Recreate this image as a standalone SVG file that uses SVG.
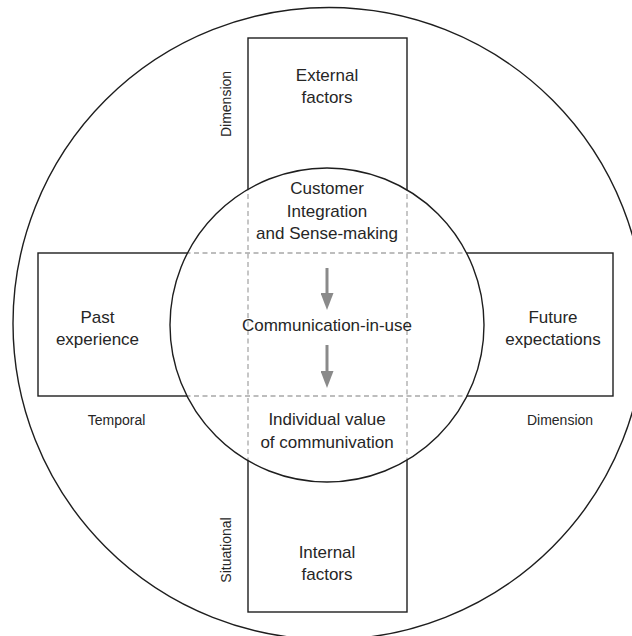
<svg xmlns="http://www.w3.org/2000/svg" width="632" height="636" viewBox="0 0 632 636">
  <style>
    .frame { fill: none; stroke: #1e1e1e; stroke-width: 1.4; }
    .guide { fill: none; stroke: #a8a8a8; stroke-width: 1.3; stroke-dasharray: 5 3.5; }
    .lbl { font-family: "Liberation Sans", Arial, sans-serif; font-size: 17px; fill: #262626; text-anchor: middle; }
    .dim { font-family: "Liberation Sans", Arial, sans-serif; font-size: 14px; fill: #262626; text-anchor: middle; }
    .flow { stroke: #8a8a8a; stroke-width: 3; fill: none; }
  </style>
  <defs>
    <marker id="head" viewBox="0 0 17 13" markerUnits="userSpaceOnUse" markerWidth="17" markerHeight="13" refX="1" refY="6.5" orient="auto">
      <path d="M0,0 L17,6.5 L0,13 z" fill="#8a8a8a"/>
    </marker>
    <clipPath id="coreClip">
      <circle cx="327" cy="325" r="157"/>
    </clipPath>
  </defs>

  <rect width="632" height="636" fill="#ffffff"/>

  <!-- outer context circle -->
  <g id="context">
    <circle class="frame" cx="329" cy="323.5" r="316"/>
  </g>

  <!-- situational dimension: vertical band -->
  <g id="situational-dimension">
    <rect class="frame" x="248" y="38" width="159" height="574" fill="#ffffff"/>
    <text class="lbl" x="327" y="81">External</text>
    <text class="lbl" x="327" y="103">factors</text>
    <text class="lbl" x="327" y="558">Internal</text>
    <text class="lbl" x="327" y="579.5">factors</text>
    <text class="dim" transform="translate(231,104) rotate(-90)">Dimension</text>
    <text class="dim" transform="translate(231,550) rotate(-90)">Situational</text>
  </g>

  <!-- temporal dimension: horizontal band -->
  <g id="temporal-dimension">
    <rect class="frame" x="38" y="253" width="575" height="143" fill="#ffffff"/>
    <text class="lbl" x="97.5" y="323">Past</text>
    <text class="lbl" x="97.5" y="344.5">experience</text>
    <text class="lbl" x="553" y="323">Future</text>
    <text class="lbl" x="553" y="344.5">expectations</text>
    <text class="dim" x="116.5" y="424.5">Temporal</text>
    <text class="dim" x="560" y="424.5">Dimension</text>
  </g>

  <!-- core circle with dashed continuation of both bands -->
  <g id="core">
    <circle cx="327" cy="325" r="157" fill="#ffffff"/>
    <g clip-path="url(#coreClip)">
      <line class="guide" x1="248" y1="160" x2="248" y2="490"/>
      <line class="guide" x1="407" y1="160" x2="407" y2="490"/>
      <line class="guide" x1="160" y1="253" x2="490" y2="253"/>
      <line class="guide" x1="160" y1="396" x2="490" y2="396"/>
    </g>
    <circle class="frame" cx="327" cy="325" r="157"/>
    <text class="lbl" x="327" y="194">Customer</text>
    <text class="lbl" x="327" y="216.5">Integration</text>
    <text class="lbl" x="327" y="239">and Sense-making</text>
    <text class="lbl" x="327" y="331">Communication-in-use</text>
    <text class="lbl" x="327" y="425">Individual value</text>
    <text class="lbl" x="327" y="447.5">of communivation</text>
  </g>

  <!-- flow arrows -->
  <g id="connectors">
    <line class="flow" x1="327" y1="268" x2="327" y2="294" marker-end="url(#head)"/>
    <line class="flow" x1="327" y1="345" x2="327" y2="372" marker-end="url(#head)"/>
  </g>
</svg>
